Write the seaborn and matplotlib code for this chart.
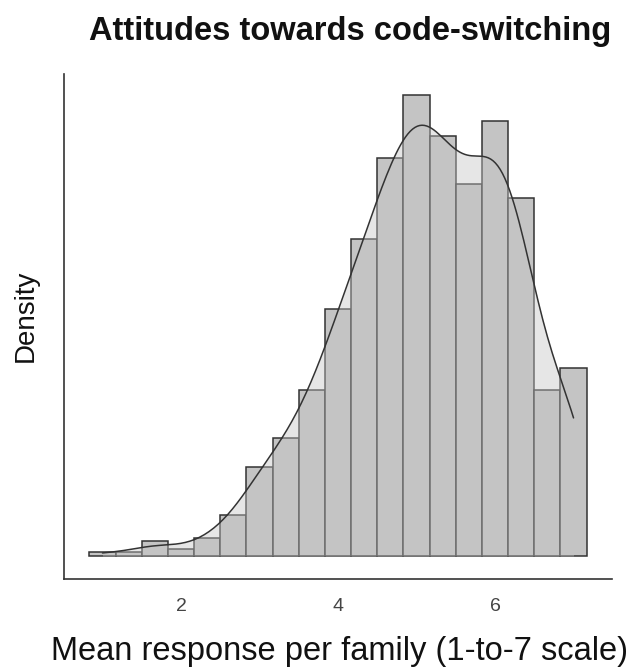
import numpy as np
import matplotlib
matplotlib.use("Agg")
import matplotlib.pyplot as plt
import seaborn as sns

# ---- data ----
response_values = [1, 4/3, 5/3, 2, 7/3, 8/3, 3, 10/3, 11/3, 4, 13/3, 14/3,
                   5, 16/3, 17/3, 6, 19/3, 20/3, 7]
family_counts = [1, 1, 4, 2, 5, 11, 24, 32, 45, 67, 86, 108,
                 125, 114, 101, 118, 97, 45, 51]
x_ticks = [2, 4, 6]
title_text = "Attitudes towards code-switching"
x_label = "Mean response per family (1-to-7 scale)"
y_label = "Density"

centers = np.array(response_values, dtype=float)
sample = np.repeat(centers, family_counts)
half = (centers[1] - centers[0]) / 2
edges = np.append(centers - half, centers[-1] + half)

sns.set_style("white")
plt.rcParams["font.family"] = ["Liberation Sans", "DejaVu Sans"]

fig = plt.figure(figsize=(6.34, 6.70), dpi=100)
ax = fig.add_axes([64 / 634, 1 - 579 / 670, (612 - 64) / 634, (579 - 74) / 670])

bar_color = "#c4c4c4"
dark = "#333333"
bw = 1.05

sns.histplot(x=sample, bins=edges, stat="density", color=bar_color,
             edgecolor=dark, linewidth=1.1, alpha=1, ax=ax)
sns.kdeplot(x=sample, fill=True, cut=0, bw_adjust=bw, color=bar_color,
            alpha=0.42, linewidth=0, ax=ax)
sns.kdeplot(x=sample, cut=0, bw_adjust=bw, color=dark, linewidth=1.1, ax=ax)

peak = max(family_counts) / (len(sample) * 2 * half)
ax.set_xlim(0.51, 7.49)
ax.set_ylim(-peak * 23 / 461, peak * 482 / 461)

sns.despine(ax=ax)
for s in ("left", "bottom"):
    ax.spines[s].set_color(dark)
    ax.spines[s].set_linewidth(1.2)

ax.set_yticks([])
ax.set_xticks(x_ticks)
ax.set_xticklabels([str(t) for t in x_ticks])
ax.tick_params(axis="x", length=5.5, width=1.2, color=dark, labelcolor="#444444",
               labelsize=14, pad=8.5)

ax.set_xlabel(x_label, fontsize=23.5, color="#111111")
ax.xaxis.set_label_coords(0.502, -0.113)
ax.set_ylabel(y_label, fontsize=20, color="#111111")
ax.yaxis.set_label_coords(-0.046, 0.521)
ax.set_title(title_text, fontsize=23.5, fontweight="bold", color="#111111",
             x=0.522, y=1.067, pad=0)

fig.savefig("out.png", dpi=100)
